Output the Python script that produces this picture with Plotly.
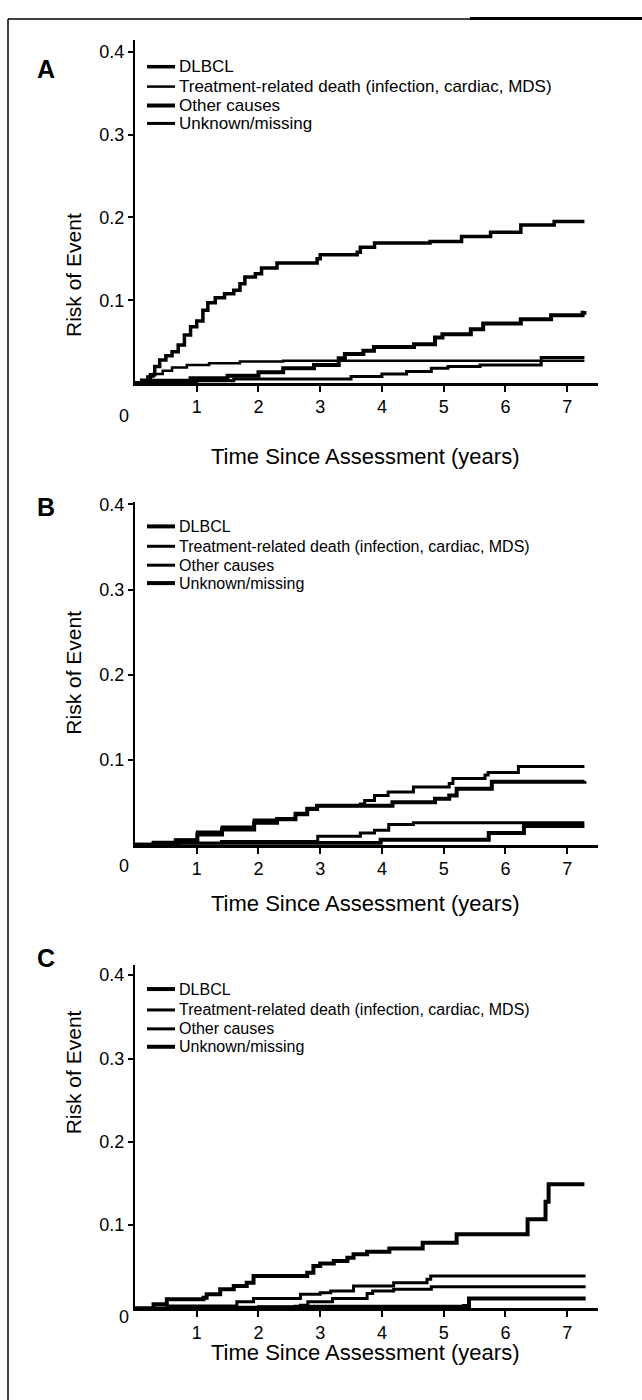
import plotly.graph_objects as go

W, H = 642, 1400

# ---------------- data (years, cumulative risk) ----------------
series_names = ["DLBCL", "Treatment-related death (infection, cardiac, MDS)",
                "Other causes", "Unknown/missing"]

# Panel A
a_dlbcl_t = [0, 0.15, 0.25, 0.32, 0.40, 0.50, 0.60, 0.70, 0.80, 0.90, 1.00, 1.10, 1.18, 1.30, 1.45,
             1.60, 1.70, 1.78, 1.95, 2.05, 2.30, 2.95, 3.00, 3.60, 3.65, 3.88, 4.78, 5.29, 5.76,
             6.25, 6.79, 7.28]
a_dlbcl_v = [0, 0.003, 0.010, 0.020, 0.028, 0.033, 0.038, 0.046, 0.058, 0.068, 0.075, 0.088, 0.097,
             0.103, 0.108, 0.112, 0.120, 0.128, 0.132, 0.139, 0.145, 0.150, 0.155, 0.158, 0.164,
             0.169, 0.171, 0.177, 0.182, 0.191, 0.195, 0.195]
a_treat_t = [0, 0.10, 0.20, 0.30, 0.45, 0.60, 0.84, 1.20, 1.70, 2.40, 7.28]
a_treat_v = [0, 0.004, 0.008, 0.011, 0.015, 0.019, 0.022, 0.024, 0.026, 0.027, 0.027]
a_other_t = [0, 0.30, 0.90, 1.50, 2.00, 2.40, 2.90, 3.30, 3.40, 3.70, 3.87, 4.52, 4.86, 4.98, 5.44,
             5.64, 6.25, 6.74, 7.25, 7.28]
a_other_v = [0, 0.003, 0.006, 0.009, 0.013, 0.018, 0.022, 0.030, 0.035, 0.039, 0.0435, 0.047, 0.055,
             0.059, 0.065, 0.072, 0.077, 0.082, 0.085, 0.087]
a_unk_t = [0, 0.30, 1.00, 1.60, 3.50, 4.00, 4.40, 4.80, 5.07, 5.59, 6.58, 7.28]
a_unk_v = [0, 0.002, 0.003, 0.005, 0.008, 0.011, 0.014, 0.018, 0.020, 0.022, 0.031, 0.031]

# Panel B
b_dlbcl_t = [0, 0.30, 0.66, 1.01, 1.41, 1.93, 2.30, 2.60, 2.79, 2.95, 4.11, 4.17, 4.86, 5.09, 5.21,
             5.78, 7.28]
b_dlbcl_v = [0, 0.002, 0.005, 0.012, 0.018, 0.026, 0.030, 0.036, 0.042, 0.046, 0.046, 0.050, 0.054,
             0.058, 0.066, 0.074, 0.075]
b_treat_t = [0, 0.70, 1.40, 2.96, 3.65, 3.88, 4.11, 4.51, 7.28]
b_treat_v = [0, 0.002, 0.004, 0.010, 0.014, 0.017, 0.024, 0.026, 0.026]
b_other_t = [0, 0.30, 0.66, 1.01, 1.41, 1.93, 2.30, 2.60, 2.79, 2.95, 3.65, 3.72, 3.88, 4.10, 4.51,
             5.09, 5.15, 5.67, 5.72, 6.21, 7.28]
b_other_v = [0, 0.003, 0.006, 0.015, 0.021, 0.029, 0.031, 0.037, 0.043, 0.046, 0.048, 0.052, 0.058,
             0.062, 0.068, 0.072, 0.078, 0.082, 0.085, 0.092, 0.092]
b_unk_t = [0, 0.80, 2.00, 3.98, 5.73, 6.30, 7.28]
b_unk_v = [0, 0.001, 0.002, 0.006, 0.014, 0.022, 0.022]

# Panel C
c_dlbcl_t = [0, 0.30, 0.515, 1.11, 1.16, 1.38, 1.60, 1.81, 1.92, 2.68, 2.79, 2.89, 3.00, 3.22,
             3.44, 3.54, 3.76, 4.12, 4.66, 5.21, 6.36, 6.65, 6.70, 7.28]
c_dlbcl_v = [0, 0.005, 0.011, 0.013, 0.017, 0.023, 0.027, 0.031, 0.039, 0.039, 0.043, 0.051, 0.054,
             0.057, 0.061, 0.065, 0.068, 0.072, 0.079, 0.089, 0.107, 0.128, 0.149, 0.149]
c_treat_t = [0, 0.52, 1.65, 1.92, 2.68, 3.00, 3.17, 3.54, 4.19, 4.73, 4.79, 7.30]
c_treat_v = [0, 0.003, 0.008, 0.012, 0.017, 0.019, 0.021, 0.027, 0.031, 0.035, 0.039, 0.039]
c_other_t = [0, 2.00, 2.68, 2.80, 3.20, 3.76, 3.85, 4.19, 4.80, 7.30]
c_other_v = [0, 0.002, 0.004, 0.008, 0.012, 0.018, 0.021, 0.023, 0.026, 0.026]
c_unk_t = [0, 1.00, 2.60, 5.33, 5.41, 7.30]
c_unk_v = [0, 0.001, 0.002, 0.003, 0.012, 0.012]

x_ticks = [1, 2, 3, 4, 5, 6, 7]
y_ticks = [0.1, 0.2, 0.3, 0.4]
y_tick_text = ["0.1", "0.2", "0.3", "0.4"]
panel_labels = ["A", "B", "C"]
x_title = "Time Since Assessment (years)"
y_title = "Risk of Event"

# ---------------- layout geometry (pixels) ----------------
def px(x):
    return x / W

def py(y):
    return 1 - y / H

FONT = "Liberation Sans, Arial, sans-serif"
X0, X1 = 135, 598
panels = [
    dict(top=33, zero=378, vmax=0.4144, leg=[60, 80, 99, 117], letter=46, legfont=17,
         widths=[3.5, 2.5, 4, 3],
         data=[(a_dlbcl_t, a_dlbcl_v), (a_treat_t, a_treat_v), (a_other_t, a_other_v), (a_unk_t, a_unk_v)]),
    dict(top=497, zero=842, vmax=0.4035, leg=[522, 542, 561, 579], letter=503, legfont=16,
         widths=[4, 3, 3, 4],
         data=[(b_dlbcl_t, b_dlbcl_v), (b_treat_t, b_treat_v), (b_other_t, b_other_v), (b_unk_t, b_unk_v)]),
    dict(top=963, zero=1308, vmax=0.412, leg=[987, 1008, 1027, 1045], letter=972, legfont=16,
         widths=[4, 3, 3, 4],
         data=[(c_dlbcl_t, c_dlbcl_v), (c_treat_t, c_treat_v), (c_other_t, c_other_v), (c_unk_t, c_unk_v)]),
]

fig = go.Figure()
annotations = []
shapes = []

for i, p in enumerate(panels):
    n = "" if i == 0 else str(i + 1)
    xa, ya = "x" + n, "y" + n
    for k, (t, v) in enumerate(p["data"]):
        fig.add_trace(go.Scatter(x=t, y=v, mode="lines", line_shape="hv",
                                 line=dict(color="black", width=p["widths"][k]),
                                 name=series_names[k], showlegend=False,
                                 xaxis=xa, yaxis=ya, hoverinfo="skip"))
    axis_common = dict(showgrid=False, zeroline=False, showline=True, linecolor="black",
                       ticks="outside", tickcolor="black",
                       tickfont=dict(family=FONT, size=18, color="black"))
    fig.layout["xaxis" + n] = dict(axis_common, domain=[px(X0), px(X1)], range=[0, 7.5],
                                   anchor=ya, tickvals=x_ticks, linewidth=2.5,
                                   ticklen=6, tickwidth=2)
    fig.layout["yaxis" + n] = dict(axis_common, domain=[py(p["zero"]), py(p["top"])],
                                   range=[0, p["vmax"]], anchor=xa, tickvals=y_ticks,
                                   ticktext=y_tick_text, linewidth=2, ticklen=5, tickwidth=2)
    # origin label
    annotations.append(dict(text="0", x=px(117), y=py(p["zero"] + 21), xref="paper", yref="paper",
                            showarrow=False, font=dict(family=FONT, size=18, color="black")))
    # panel letter
    annotations.append(dict(text="<b>%s</b>" % panel_labels[i], x=px(35), y=py(p["letter"]),
                            xref="paper", yref="paper", showarrow=False,
                            font=dict(family=FONT, size=25, color="black")))
    # axis titles
    annotations.append(dict(text=x_title, x=px(366), y=py(p["zero"] + 59), xref="paper", yref="paper",
                            showarrow=False, font=dict(family=FONT, size=22, color="black")))
    annotations.append(dict(text=y_title, x=px(60), y=py((p["top"] + p["zero"]) / 2), xref="paper",
                            yref="paper", showarrow=False, textangle=-90,
                            font=dict(family=FONT, size=21, color="black")))
    # legend
    for k, yy in enumerate(p["leg"]):
        shapes.append(dict(type="line", xref="paper", yref="paper", x0=px(147), x1=px(175),
                           y0=py(yy), y1=py(yy), line=dict(color="black", width=p["widths"][k])))
        annotations.append(dict(text=series_names[k], x=px(177), y=py(yy), xref="paper", yref="paper",
                                xanchor="left", yanchor="middle", showarrow=False,
                                font=dict(family=FONT, size=p["legfont"], color="black")))

# frame
shapes.append(dict(type="line", xref="paper", yref="paper", x0=px(8), x1=px(8), y0=py(12), y1=0,
                   line=dict(color="black", width=1.5)))
shapes.append(dict(type="line", xref="paper", yref="paper", x0=px(8), x1=1, y0=py(12), y1=py(12),
                   line=dict(color="black", width=1.5)))
shapes.append(dict(type="line", xref="paper", yref="paper", x0=px(470), x1=1, y0=py(11.5), y1=py(11.5),
                   line=dict(color="black", width=3)))

fig.update_layout(width=W, height=H, margin=dict(l=0, r=0, t=0, b=0),
                  paper_bgcolor="white", plot_bgcolor="white",
                  annotations=annotations, shapes=shapes, showlegend=False)

fig.write_html("out.html")
